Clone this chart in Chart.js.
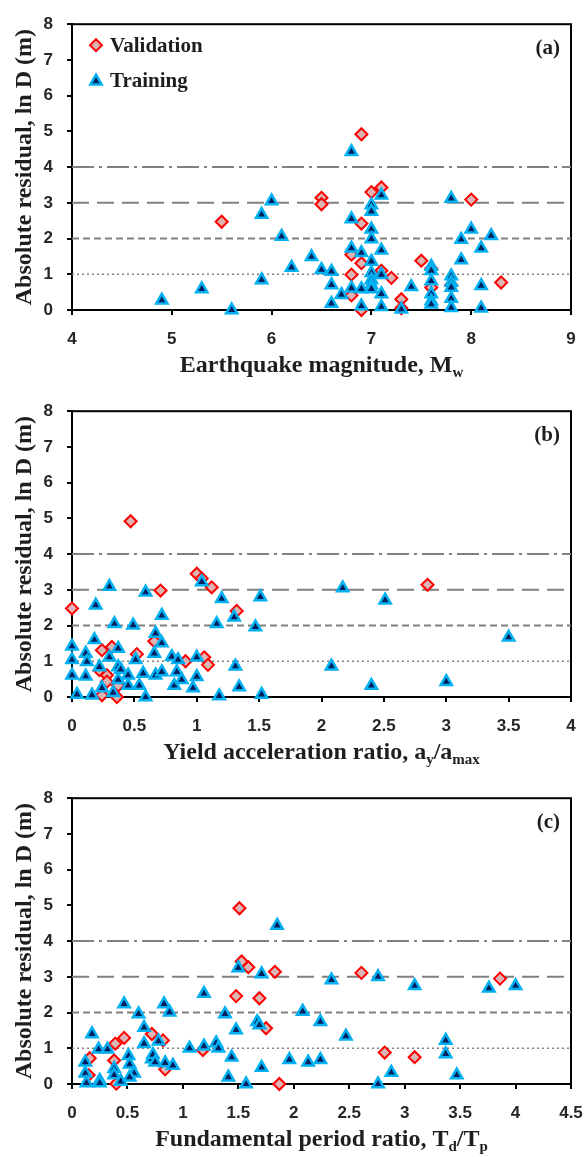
<!DOCTYPE html>
<html>
<head>
<meta charset="utf-8">
<script src="https://cdn.jsdelivr.net/npm/chart.js@4.4.1/dist/chart.umd.min.js"></script>
<style>
html, body { margin: 0; padding: 0; background: #fff; }
.panel { position: absolute; left: 0; width: 584px; height: 383px; }
</style>
</head>
<body>
<div class="panel" style="top:0px"><canvas id="chartA"></canvas></div>
<div class="panel" style="top:387px"><canvas id="chartB"></canvas></div>
<div class="panel" style="top:774px"><canvas id="chartC"></canvas></div>
<script>
// (a) earthquake magnitude
var magVal = [5.5, 6.5, 6.5, 6.9, 7.0, 7.1, 8.0, 6.9, 6.8, 6.9, 6.8, 6.8, 6.9, 7.1, 7.2, 7.3, 7.3, 7.5, 7.6, 7.6, 7.8, 8.3];
var resValA = [2.47, 3.14, 2.96, 4.92, 3.30, 3.43, 3.09, 2.42, 1.55, 1.31, 0.99, 0.41, 0.0, 1.10, 0.90, 0.30, 0.05, 1.38, 1.16, 0.63, 0.70, 0.77];
var magTrn = [4.9, 5.3, 5.6, 5.9, 5.9, 6.0, 6.1, 6.2, 6.4, 6.5, 6.6, 6.6, 6.6, 6.7, 6.8, 6.8, 6.8, 6.8, 6.9, 6.9, 6.9,
  7.0, 7.0, 7.0, 7.0, 7.0, 7.0, 7.0, 7.0, 7.0, 7.1, 7.1, 7.1, 7.1, 7.1, 7.3, 7.4, 7.6, 7.6, 7.6, 7.6, 7.6, 7.6,
  7.8, 7.8, 7.8, 7.8, 7.8, 7.8, 7.9, 7.9, 8.0, 8.1, 8.1, 8.1, 8.2];
var resTrnA = [0.27, 0.59, 0.0, 0.84, 2.67, 3.05, 2.06, 1.19, 1.49, 1.13, 1.08, 0.70, 0.18, 0.43, 2.55, 1.73, 0.61, 4.43, 1.60, 0.59, 0.11,
  2.94, 2.76, 2.26, 1.99, 1.36, 1.04, 0.84, 0.70, 0.59, 3.21, 1.67, 0.99, 0.45, 0.09, 0.02, 0.65, 1.22, 1.10, 0.81, 0.45, 0.25, 0.16,
  3.12, 0.95, 0.77, 0.63, 0.32, 0.06, 1.97, 1.40, 2.26, 1.73, 0.68, 0.05, 2.08];

// (b) yield acceleration ratio
var accVal = [0.0, 0.47, 1.0, 1.04, 1.12, 0.71, 1.32, 2.85, 0.24, 0.32, 0.52, 0.66, 0.91, 1.06, 1.09, 0.22, 0.28, 0.28, 0.37, 0.24, 0.36];
var resValB = [2.48, 4.92, 3.45, 3.32, 3.07, 2.98, 2.41, 3.14, 1.31, 1.40, 1.20, 1.56, 1.00, 1.11, 0.90, 0.75, 0.61, 0.43, 0.32, 0.05, 0.0];
var accTrn = [0.0, 0.0, 0.0, 0.04, 0.11, 0.12, 0.11, 0.16, 0.18, 0.19, 0.22, 0.24, 0.30, 0.30, 0.33, 0.34, 0.37, 0.37, 0.37, 0.39,
  0.45, 0.45, 0.49, 0.51, 0.54, 0.57, 0.59, 0.59, 0.66, 0.67, 0.67, 0.72, 0.72, 0.72, 0.80, 0.82, 0.84, 0.85, 0.88, 0.97,
  1.0, 1.0, 1.04, 1.16, 1.18, 1.20, 1.30, 1.31, 1.34, 1.47, 1.51, 1.52, 2.08, 2.17, 2.40, 2.51, 3.0, 3.50];
var resTrnB = [1.42, 1.04, 0.61, 0.07, 1.22, 0.99, 0.58, 0.05, 1.60, 2.57, 0.84, 0.25, 3.09, 1.11, 0.12, 2.05, 1.36, 0.84, 0.48, 0.77,
  0.61, 0.32, 2.01, 1.04, 0.32, 0.66, 2.93, 0.0, 1.22, 1.78, 0.61, 2.28, 1.51, 0.70, 1.13, 0.32, 0.70, 1.04, 0.48, 0.25,
  1.11, 0.57, 3.22, 2.05, 0.03, 2.75, 2.23, 0.86, 0.28, 1.96, 2.80, 0.07, 0.86, 3.05, 0.32, 2.71, 0.43, 1.67];

// (c) fundamental period ratio
var perVal = [1.51, 1.53, 1.59, 1.83, 2.61, 3.86, 1.48, 1.69, 1.75, 0.72, 0.82, 0.47, 0.39, 1.18, 0.16, 0.38, 0.84, 0.15, 0.40, 1.87, 2.82, 3.09];
var resValC = [4.92, 3.43, 3.27, 3.14, 3.11, 2.95, 2.46, 2.40, 1.56, 1.40, 1.22, 1.29, 1.13, 0.95, 0.72, 0.66, 0.41, 0.25, 0.01, 0.0, 0.88, 0.75];
var perTrn = [1.85, 1.50, 1.71, 2.76, 2.34, 3.09, 3.76, 4.0, 1.19, 0.47, 0.83, 0.88, 0.60, 1.38, 2.08, 2.24, 1.67, 1.69, 1.48, 0.65,
  0.18, 2.47, 3.37, 3.37, 0.65, 0.78, 1.30, 1.32, 1.06, 1.19, 0.24, 0.32, 0.51, 0.52, 0.72, 0.73, 0.75, 0.84, 0.91, 1.44,
  1.96, 2.13, 2.24, 0.12, 0.12, 0.13, 0.38, 0.38, 0.44, 0.56, 0.52, 0.25, 0.25, 1.71, 1.41, 1.57, 2.88, 2.76, 3.47];
var resTrnC = [4.44, 3.25, 3.08, 3.0, 2.91, 2.75, 2.68, 2.75, 2.53, 2.24, 2.24, 2.01, 1.96, 1.96, 2.03, 1.74, 1.74, 1.65, 1.51, 1.58,
  1.40, 1.34, 1.22, 0.84, 1.13, 1.20, 1.15, 1.0, 1.0, 1.06, 0.97, 0.97, 0.79, 0.55, 0.70, 0.82, 0.61, 0.59, 0.52, 0.75,
  0.68, 0.61, 0.68, 0.61, 0.30, 0.03, 0.43, 0.25, 0.07, 0.30, 0.19, 0.10, 0.03, 0.46, 0.19, 0.0, 0.32, 0.0, 0.25];

// horizontal reference levels and their dash styles
var refLevels = [1, 2, 3, 4];
var refDashes = [[2, 3], [7, 4], [17, 8], [22, 5, 3, 5]];
var refWidths = [1.5, 2, 2, 2];

var yTitle = 'Absolute residual, ln D (m)';
var legendLabels = ['Validation', 'Training'];

var tickFont = { family: '"Liberation Sans", Arial, sans-serif', size: 17, weight: 'bold' };
var serif = '"Liberation Serif", "DejaVu Serif", serif';

function pairs(xs, ys) {
  var out = [];
  for (var i = 0; i < xs.length; i++) out.push({ x: xs[i], y: ys[i] });
  return out;
}

var valStyle = { pointStyle: 'rectRot', radius: 6, bg: '#dcb4b4', border: '#ff0000', bw: 2 };
var trnStyle = { pointStyle: 'triangle', radius: 6.5, bg: '#002060', border: '#00b0f0', bw: 2.5 };

function drawMarker(ctx, st, x, y) {
  ctx.fillStyle = st.bg;
  ctx.strokeStyle = st.border;
  ctx.lineWidth = st.bw;
  Chart.helpers.drawPoint(ctx, { pointStyle: st.pointStyle, radius: st.radius, rotation: 0, borderWidth: st.bw }, x, y);
}

var panelPlugin = {
  id: 'panel',
  beforeDatasetsDraw: function (chart) {
    var ctx = chart.ctx, a = chart.chartArea;
    ctx.save();
    ctx.strokeStyle = '#000';
    ctx.lineWidth = 2;
    ctx.strokeRect(a.left, a.top, a.right - a.left, a.bottom - a.top);
    ctx.restore();
  },
  afterDraw: function (chart, args, opts) {
    var ctx = chart.ctx, a = chart.chartArea;
    ctx.save();
    ctx.fillStyle = '#1e1e1e';
    // panel letter
    ctx.font = 'bold 21px ' + serif;
    ctx.textAlign = 'right';
    ctx.textBaseline = 'middle';
    ctx.fillText(opts.letter, a.right - 11, a.top + 24);

    // x-axis title with subscripts
    var mainFont = 'bold 24px ' + serif, subFont = 'bold 15px ' + serif;
    var parts = opts.xTitle, total = 0, i;
    for (i = 0; i < parts.length; i++) {
      ctx.font = parts[i][1] ? subFont : mainFont;
      total += ctx.measureText(parts[i][0]).width;
    }
    var x = (a.left + a.right) / 2 - total / 2, base = a.bottom + 62;
    ctx.textAlign = 'left';
    ctx.textBaseline = 'alphabetic';
    for (i = 0; i < parts.length; i++) {
      ctx.font = parts[i][1] ? subFont : mainFont;
      ctx.fillText(parts[i][0], x, parts[i][1] ? base + 5 : base);
      x += ctx.measureText(parts[i][0]).width;
    }

    // legend inside the plot
    if (opts.legend) {
      var styles = [valStyle, trnStyle];
      ctx.font = 'bold 21px ' + serif;
      ctx.textBaseline = 'middle';
      for (i = 0; i < legendLabels.length; i++) {
        var ly = a.top + 21 + i * 35;
        drawMarker(ctx, styles[i], a.left + 24, ly + (i === 1 ? 1 : 0));
        ctx.fillStyle = '#1e1e1e';
        ctx.fillText(legendLabels[i], a.left + 38, ly + 1);
      }
    }
    ctx.restore();
  }
};

function makeChart(id, xMin, xMax, step, valX, valY, trnX, trnY, letter, xTitle, showLegend) {
  var datasets = [
    {
      label: legendLabels[1], data: pairs(trnX, trnY), order: 1, clip: false,
      pointStyle: trnStyle.pointStyle, pointRadius: trnStyle.radius,
      backgroundColor: trnStyle.bg, borderColor: trnStyle.border, borderWidth: trnStyle.bw
    },
    {
      label: legendLabels[0], data: pairs(valX, valY), order: 2, clip: false,
      pointStyle: valStyle.pointStyle, pointRadius: valStyle.radius,
      backgroundColor: valStyle.bg, borderColor: valStyle.border, borderWidth: valStyle.bw
    }
  ];
  refLevels.forEach(function (lv, k) {
    datasets.push({
      type: 'line', label: 'ref' + lv, order: 3,
      data: [{ x: xMin, y: lv }, { x: xMax, y: lv }],
      borderColor: '#808080', borderWidth: refWidths[k], borderDash: refDashes[k],
      pointRadius: 0, fill: false
    });
  });

  return new Chart(document.getElementById(id), {
    type: 'scatter',
    data: { datasets: datasets },
    options: {
      responsive: true,
      maintainAspectRatio: false,
      animation: false,
      devicePixelRatio: 1,
      layout: { padding: { top: 14, right: 13, left: 0, bottom: 0 } },
      plugins: {
        legend: { display: false },
        tooltip: { enabled: false },
        panel: { letter: letter, xTitle: xTitle, legend: showLegend }
      },
      scales: {
        x: {
          type: 'linear', min: xMin, max: xMax,
          ticks: {
            stepSize: step, color: '#262626', font: tickFont, padding: 14, maxRotation: 0, autoSkip: false,
            callback: function (v) { return String(Math.round(v * 100) / 100); }
          },
          grid: { drawOnChartArea: false, drawTicks: true, tickLength: 5, color: '#000', lineWidth: 2 },
          border: { color: '#000', width: 2 },
          afterFit: function (s) {
            s.height = 73;
            s.paddingLeft = 0;
            s.paddingRight = 0;
          }
        },
        y: {
          min: 0, max: 8,
          ticks: { stepSize: 1, color: '#262626', font: tickFont, padding: 14 },
          grid: { drawOnChartArea: false, drawTicks: true, tickLength: 5, color: '#000', lineWidth: 2 },
          border: { color: '#000', width: 2 },
          title: {
            display: true, text: yTitle, color: '#1e1e1e',
            font: { family: serif, size: 24, weight: 'bold' },
            padding: { top: 10, bottom: 0 }
          },
          afterFit: function (s) { s.width = 72; }
        }
      }
    },
    plugins: [panelPlugin]
  });
}

makeChart('chartA', 4, 9, 1, magVal, resValA, magTrn, resTrnA, '(a)',
  [['Earthquake magnitude, M', false], ['w', true]], true);
makeChart('chartB', 0, 4, 0.5, accVal, resValB, accTrn, resTrnB, '(b)',
  [['Yield acceleration ratio, a', false], ['y', true], ['/a', false], ['max', true]], false);
makeChart('chartC', 0, 4.5, 0.5, perVal, resValC, perTrn, resTrnC, '(c)',
  [['Fundamental period ratio, T', false], ['d', true], ['/T', false], ['p', true]], false);
</script>
</body>
</html>
